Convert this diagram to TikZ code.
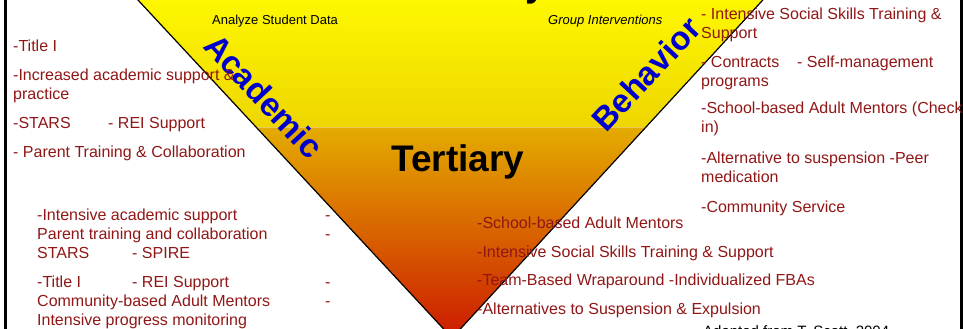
\documentclass[tikz,border=0pt]{standalone}
\usepackage{fontspec}
\setmainfont{Liberation Sans}
\usepackage{tikz}
\usetikzlibrary{positioning,calc}
\definecolor{darkred}{RGB}{145,22,22}
\definecolor{tierblue}{RGB}{0,0,204}
\definecolor{topyellow}{RGB}{255,250,0}
\definecolor{midyellow}{RGB}{238,214,0}
\definecolor{gold}{RGB}{228,172,0}
\definecolor{deepred}{RGB}{204,24,0}
\begin{document}
\begin{tikzpicture}[x=1pt, y=-1pt,
    item/.style={anchor=base west, inner sep=0pt, text=darkred, font=\fontsize{16}{19}\selectfont},
    side/.style={inner sep=0pt, text=tierblue, font=\bfseries\fontsize{33}{36}\selectfont},
    tier/.style={inner sep=0pt, anchor=base, font=\bfseries\fontsize{37}{40}\selectfont},
    note/.style={anchor=base west, inner sep=0pt, font=\fontsize{13}{15}\selectfont}]
    \useasboundingbox (0,0) rectangle (963,329);
    \clip (0,0) rectangle (963,329);

    % Triangle
    \coordinate (tl) at (128.7,-10);
    \coordinate (tr) at (772,-10);
    \coordinate (apex) at (452,338);
    \begin{scope}
        \clip (tl) -- (tr) -- (apex) -- cycle;
        \shade[top color=topyellow, bottom color=midyellow] (100,-10) rectangle (800,127);
        \shade[top color=gold, bottom color=deepred] (100,127) rectangle (800,340);
        \draw[white, opacity=0.35, line width=0.8pt] (100,127) -- (800,127);
    \end{scope}
    \draw[line width=1.2pt] (tl) -- (apex) -- (tr);

    % Frame
    \draw[line width=3pt] (5,0) -- (5,329);
    \draw[line width=3pt] (961.5,0) -- (961.5,329);

    % Tiers
    \node[tier] (secondary) at (451,-3) {Secondary};
    \node[tier] (tertiary) at (458,171) {Tertiary};
    \node[side, rotate=-47] (academic) at (264,96) {Academic};
    \node[side, rotate=47] (behavior) at (646,74) {Behavior};
    \node[note] (analyze) at (212,25) {Analyze Student Data};
    \node[note, font=\itshape\fontsize{13}{15}\selectfont] (group) at (548,25) {Group Interventions};

    % Academic, left
    \node[item] (a1) at (13,52) {-Title I};
    \node[item] (a2) at (13,81) {-Increased academic support \&};
    \node[item] (a3) at (13,99) {practice};
    \node[item] (a4) at (13,128) {-STARS};
    \node[item] (a5) at (108,128) {- REI Support};
    \node[item] (a6) at (13,157) {- Parent Training \& Collaboration};

    \node[item] (b1) at (37,220) {-Intensive academic support};
    \node[item] (b2) at (37,239) {Parent training and collaboration};
    \node[item] (b3) at (37,258) {STARS};
    \node[item] (b4) at (132,258) {- SPIRE};
    \node[item] (b5) at (37,287) {-Title I};
    \node[item] (b6) at (132,287) {- REI Support};
    \node[item] (b7) at (37,306) {Community-based Adult Mentors};
    \node[item] (b8) at (37,325) {Intensive progress monitoring};
    \foreach \y/\n in {220/1, 239/2, 287/3, 306/4} {
        \node[item] (dash\n) at (325,\y) {-};
    }

    % Behavior, right
    \node[item] (c1) at (701,20) {- Intensive Social Skills Training \&};
    \node[item] (c2) at (701,38) {Support};
    \node[item] (c3) at (701,67) {- Contracts};
    \node[item] (c4) at (797,67) {- Self-management};
    \node[item] (c5) at (701,86) {programs};
    \node[item] (c6) at (701,113) {-School-based Adult Mentors (Check};
    \node[item] (c7) at (701,132) {in)};
    \node[item] (c8) at (701,163) {-Alternative to suspension -Peer};
    \node[item] (c9) at (701,182) {medication};
    \node[item] (c10) at (701,212) {-Community Service};

    \node[item] (d1) at (477,228) {-School-based Adult Mentors};
    \node[item] (d2) at (477,257) {-Intensive Social Skills Training \& Support};
    \node[item] (d3) at (477,285) {-Team-Based Wraparound -Individualized FBAs};
    \node[item] (d4) at (477,314) {-Alternatives to Suspension \& Expulsion};

    \node[note, font=\fontsize{15}{18}\selectfont] (source) at (703,336) {Adapted from T. Scott, 2004};
\end{tikzpicture}
\end{document}
